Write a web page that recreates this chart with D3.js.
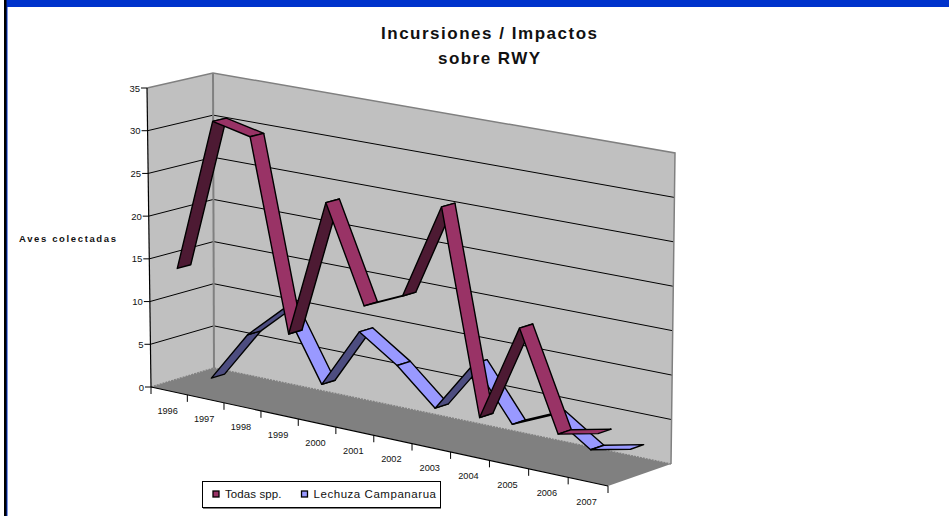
<!DOCTYPE html>
<html>
<head>
<meta charset="utf-8">
<script src="https://cdn.jsdelivr.net/npm/d3@7"></script>
<style>
html,body{margin:0;padding:0;background:#fff;overflow:hidden}
svg{display:block}
text{font-family:"Liberation Sans",Arial,sans-serif;fill:#111}
</style>
</head>
<body>
<svg id="chart" width="949" height="516"></svg>
<script>
const years = ["1996","1997","1998","1999","2000","2001","2002","2003","2004","2005","2006","2007"];
const todasSpp = [14,32,31,9,25,14,16,27,4,15,4,5];
const lechuza = [0,6,10,2,9,6,2,8,2,4,1,2];
const valueTicks = [0,5,10,15,20,25,30,35];
const seriesNames = ["Todas spp.","Lechuza Campanarua"];
const titleLines = ["Incursiones / Impactos","sobre RWY"];
const yAxisLabel = "Aves colectadas";

const svg = d3.select("#chart");

// Page frame
svg.append("rect").attr("x",7).attr("y",0).attr("width",942).attr("height",7).attr("fill","#0033cc");
svg.append("rect").attr("x",4).attr("y",0).attr("width",3).attr("height",516).attr("fill","#000");
svg.append("rect").attr("x",6.5).attr("y",0).attr("width",1).attr("height",516).attr("fill","#0033cc");

// 3D box corners as seen in the picture
const corner = {
  flb:[151,387], flt:[147,88],
  blb:[214,368], blt:[213,73],
  brb:[671,464], brt:[675,153],
  frb:[608,486], frt:[612,171]
};
const mix = (a,b,t)=>[a[0]+(b[0]-a[0])*t, a[1]+(b[1]-a[1])*t];
const uScale = d3.scaleBand().domain(years).range([0,1]);
const vScale = d3.scaleLinear().domain([0,35]).range([0,1]);
const warp = u => u - 0.05*u*(1-u); // foreshortening along the category axis
function project(u,value,d){
  const w = warp(u);
  const floor = mix(mix(corner.flb,corner.frb,w), mix(corner.blb,corner.brb,w), d);
  const top = mix(mix(corner.flt,corner.frt,w), mix(corner.blt,corner.brt,w), d);
  return mix(floor,top,vScale(value));
}
const poly = d3.line();

// Walls and floor
svg.append("path").attr("d",poly([corner.flb,corner.flt,corner.blt,corner.blb])+"Z").attr("fill","#c0c0c0");
svg.append("path").attr("d",poly([corner.blb,corner.blt,corner.brt,corner.brb])+"Z").attr("fill","#c0c0c0");
svg.append("path").attr("d",poly([corner.flb,corner.blb,corner.brb,corner.frb])+"Z").attr("fill","#808080");

// Gridlines
valueTicks.filter(v=>v>0&&v<35).forEach(v=>{
  svg.append("path")
    .attr("d",poly([project(0,v,0),project(0,v,1),project(1,v,1)]))
    .attr("fill","none").attr("stroke","#000").attr("stroke-width",1);
});

// Wall edges
svg.append("path").attr("d",poly([corner.flt,corner.blt,corner.brt,corner.brb]))
  .attr("fill","none").attr("stroke","#808080").attr("stroke-width",1.5);
svg.append("path").attr("d",poly([corner.blt,corner.blb]))
  .attr("fill","none").attr("stroke","#808080").attr("stroke-width",2);
svg.append("path").attr("d",poly([corner.flb,corner.blb,corner.brb]))
  .attr("fill","none").attr("stroke","#808080").attr("stroke-width",1.5).attr("stroke-dasharray","2 1");

// Value axis
svg.append("path").attr("d",poly([corner.flb,corner.flt]))
  .attr("fill","none").attr("stroke","#000").attr("stroke-width",1.2);
valueTicks.forEach(v=>{
  const p = project(0,v,0);
  svg.append("line").attr("x1",p[0]-6).attr("x2",p[0]).attr("y1",p[1]).attr("y2",p[1]).attr("stroke","#000");
  svg.append("text").attr("x",p[0]-7).attr("y",p[1]+3.5).attr("text-anchor","end").attr("font-size",9.5).text(v);
});

// Category axis
svg.append("path").attr("d",poly([corner.flb,corner.frb]))
  .attr("fill","none").attr("stroke","#000").attr("stroke-width",1.2);
d3.range(0,years.length+1).forEach(i=>{
  const p = project(i/years.length,0,0);
  svg.append("line").attr("x1",p[0]).attr("x2",p[0]).attr("y1",p[1]).attr("y2",p[1]+7).attr("stroke","#000");
});
years.forEach(y=>{
  const p = project(uScale(y)+uScale.bandwidth()/2,0,0);
  svg.append("text").attr("x",p[0]-1.5).attr("y",p[1]+23).attr("text-anchor","middle").attr("font-size",9.2).text(y);
});

// Ribbons
function ribbon(values,d0,d1,light,dark){
  const g = svg.append("g");
  for(let i=0;i<values.length-1;i++){
    const u0 = uScale(years[i])+uScale.bandwidth()/2;
    const u1 = uScale(years[i+1])+uScale.bandwidth()/2;
    const a = project(u0,values[i],d0), b = project(u1,values[i+1],d0);
    const c = project(u1,values[i+1],d1), e = project(u0,values[i],d1);
    const cross = (b[0]-a[0])*(e[1]-a[1])-(b[1]-a[1])*(e[0]-a[0]);
    g.append("path").attr("d",poly([a,b,c,e])+"Z")
      .attr("fill",cross>0?dark:light)
      .attr("stroke","#000").attr("stroke-width",1.4).attr("stroke-linejoin","round");
  }
}
ribbon(lechuza,0.67,0.88,"#9999ff","#4d4d80");
ribbon(todasSpp,0.15,0.36,"#993366","#4d1a33");

// Title and axis title
svg.append("text").attr("x",489).attr("y",39).attr("text-anchor","middle").attr("font-size",17).attr("font-weight","bold")
  .attr("textLength",216).text(titleLines[0]);
svg.append("text").attr("x",489).attr("y",63.5).attr("text-anchor","middle").attr("font-size",17).attr("font-weight","bold")
  .attr("textLength",102).text(titleLines[1]);
svg.append("text").attr("x",19).attr("y",242).attr("font-size",9.5).attr("font-weight","bold")
  .attr("textLength",97).text(yAxisLabel);

// Legend
svg.append("rect").attr("x",202.5).attr("y",481.5).attr("width",238).attr("height",26)
  .attr("fill","#fff").attr("stroke","#000");
svg.append("line").attr("x1",203).attr("x2",441).attr("y1",508.5).attr("y2",508.5).attr("stroke","#808080");
[[212.5,225,56.5,"#993366"],[301,313.5,122.5,"#9999ff"]].forEach((l,i)=>{
  svg.append("rect").attr("x",l[0]+0.5).attr("y",491).attr("width",6).attr("height",6)
    .attr("fill",l[3]).attr("stroke","#000").attr("stroke-width",1.3);
  svg.append("text").attr("x",l[1]).attr("y",498).attr("font-size",11.5)
    .attr("textLength",l[2]).text(seriesNames[i]);
});
</script>
</body>
</html>
